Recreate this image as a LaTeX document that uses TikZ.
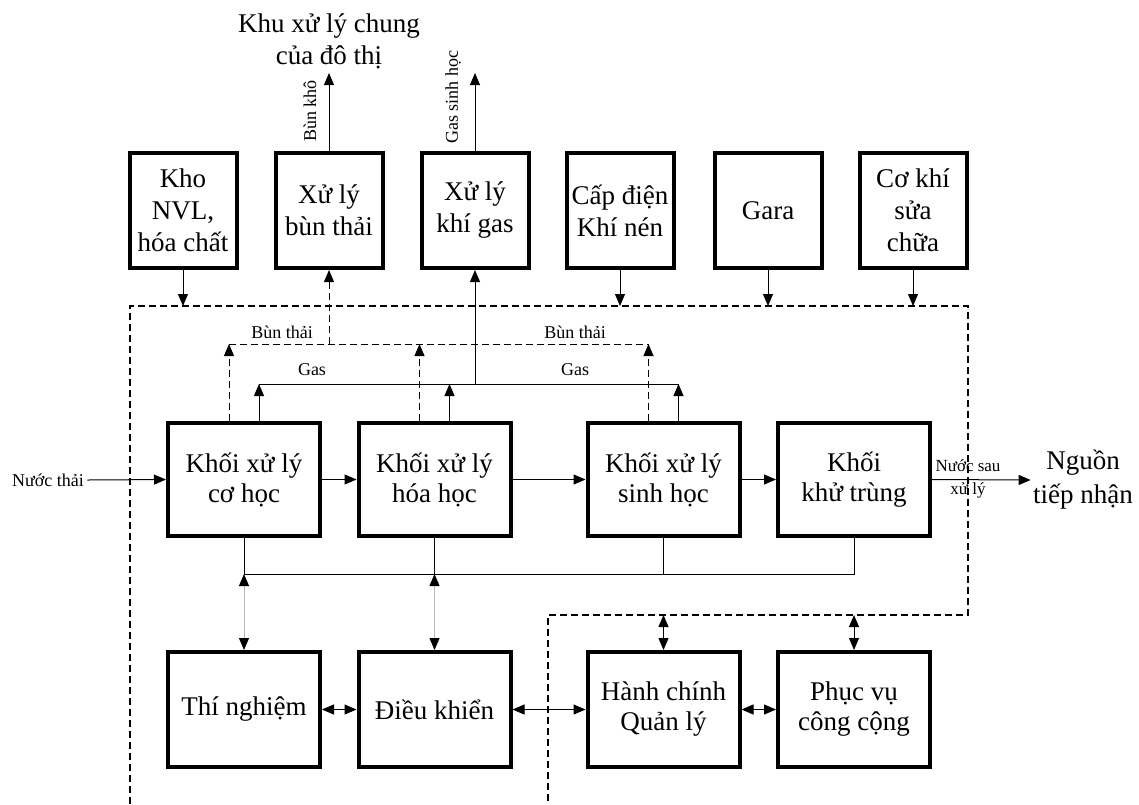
\documentclass[tikz,border=0pt]{standalone}
\usepackage{fontspec}
\setmainfont{Liberation Serif}
\usetikzlibrary{arrows.meta,positioning}

\begin{document}
\begin{tikzpicture}[x=1pt,y=-1pt,line width=1pt,
  blk/.style={draw,line width=4pt,minimum width=152pt,minimum height=113pt,
    align=center,inner sep=2pt,font=\fontsize{27}{30}\selectfont},
  topblk/.style={blk,minimum width=107pt,minimum height=115pt,font=\fontsize{27}{32}\selectfont},
  lbl/.style={inner sep=3pt,font=\fontsize{18}{20}\selectfont},
  arr/.style={-{Triangle[length=12pt,width=10pt]}},
  biarr/.style={{Triangle[length=12pt,width=10pt,color=black]}-{Triangle[length=12pt,width=10pt,color=black]}},
  dsh/.style={dash pattern=on 7pt off 4pt}]
\useasboundingbox (0,0) rectangle (1139,804);

% Levels of the connector lines
\coordinate (frameY) at (0,306);
\coordinate (innerY) at (0,615);
\coordinate (sludgeY) at (0,344);
\coordinate (gasY) at (0,384);
\coordinate (busY) at (0,574);

% Plant boundary
\draw[dsh,line width=1.1pt] (130,804) -- (130,306) -- (968,306) -- (968,615) -- (548,615) -- (548,804);

% Auxiliary blocks
\node[topblk] (store) at (183,210.5) {Kho\\NVL,\\hóa chất};
\node[topblk] (sludge) at (329,210.5) {Xử lý\\bùn thải};
\node[topblk] (gas) at (475,210.5) {Xử lý\\khí gas};
\node[topblk] (power) at (620,210.5) {Cấp điện\\Khí nén};
\node[topblk] (garage) at (768,210.5) {Gara};
\node[topblk] (repair) at (913,210.5) {Cơ khí\\sửa\\chữa};

% Treatment line
\node[blk] (mech) at (244,479.5) {Khối xử lý\\cơ học};
\node[blk] (chem) at (434.5,479.5) {Khối xử lý\\hóa học};
\node[blk] (bio) at (663.5,479.5) {Khối xử lý\\sinh học};
\node[blk] (disinf) at (854,479.5) {Khối\\khử trùng};

% Service blocks
\node[blk,minimum height=115pt] (lab) at (244,709.5) {Thí nghiệm};
\node[blk,minimum height=115pt] (ctrl) at (434.5,709.5) {Điều khiển};
\node[blk,minimum height=115pt] (admin) at (663.5,709.5) {Hành chính\\Quản lý};
\node[blk,minimum height=115pt] (serv) at (854,709.5) {Phục vụ\\công cộng};

% Outside receivers
\node[align=center,inner sep=2pt,font=\fontsize{27}{32}\selectfont] (city) at (329,41) {Khu xử lý chung\\của đô thị};
\node[align=center,inner sep=2pt,font=\fontsize{27}{34}\selectfont] (recv) at (1083,480) {Nguồn\\tiếp nhận};

% Water flow
\node[lbl] (inlbl) at (48,480) {Nước thải};
\draw[arr] (inlbl.east) -- (mech.west);
\draw[arr] (mech.east) -- (chem.west);
\draw[arr] (chem.east) -- (bio.west);
\draw[arr] (bio.east) -- (disinf.west);
\draw[arr] (disinf.east) -- (recv.west);
\node[lbl,align=center,font=\fontsize{17}{23}\selectfont] (outlbl) at (968,479) {Nước sau\\xử lý};

% Supplies into the plant
\draw[arr] (store.south) -- (store.south |- frameY);
\draw[arr] (power.south) -- (power.south |- frameY);
\draw[arr] (garage.south) -- (garage.south |- frameY);
\draw[arr] (repair.south) -- (repair.south |- frameY);

% Sludge collection
\draw[dsh,arr] ([xshift=-15pt]mech.north) -- ([xshift=-15pt]mech.north |- sludgeY);
\draw[dsh,arr] ([xshift=-15pt]chem.north) -- ([xshift=-15pt]chem.north |- sludgeY);
\draw[dsh,arr] ([xshift=-15pt]bio.north) -- ([xshift=-15pt]bio.north |- sludgeY);
\draw[dsh] ([xshift=-15pt]mech.north |- sludgeY) -- ([xshift=-15pt]bio.north |- sludgeY);
\draw[dsh,arr] (sludge.south |- sludgeY) -- (sludge.south);
\node[lbl] (sl1) at (282,332) {Bùn thải};
\node[lbl] (sl2) at (575,332) {Bùn thải};

% Gas collection
\draw[arr] ([xshift=15pt]mech.north) -- ([xshift=15pt]mech.north |- gasY);
\draw[arr] ([xshift=15pt]chem.north) -- ([xshift=15pt]chem.north |- gasY);
\draw[arr] ([xshift=15pt]bio.north) -- ([xshift=15pt]bio.north |- gasY);
\draw ([xshift=15pt]mech.north |- gasY) -- ([xshift=15pt]bio.north |- gasY);
\draw[arr] (gas.south |- gasY) -- (gas.south);
\node[lbl] (gs1) at (312,370) {Gas};
\node[lbl] (gs2) at (575,370) {Gas};

% To the city facility
\coordinate (dryout) at ([yshift=78pt]sludge.north);
\coordinate (gasout) at ([yshift=78pt]gas.north);
\draw[arr] (sludge.north) -- (dryout);
\draw[arr] (gas.north) -- (gasout);
\node[lbl,rotate=90] (drylbl) at (310,111) {Bùn khô};
\node[lbl,rotate=90] (gaslbl) at (453,97) {Gas sinh học};

% Monitoring bus
\draw (mech.south) |- (disinf.south |- busY) -- (disinf.south);
\draw (chem.south) -- (chem.south |- busY);
\draw (bio.south) -- (bio.south |- busY);
\draw[biarr,gray!55] (lab.north) -- (lab.north |- busY);
\draw[biarr,gray!55] (ctrl.north) -- (ctrl.north |- busY);

% Service links
\draw[biarr] (lab.east) -- (ctrl.west);
\draw[biarr] (ctrl.east) -- (admin.west);
\draw[biarr] (admin.east) -- (serv.west);
\draw[biarr] (admin.north) -- (admin.north |- innerY);
\draw[biarr] (serv.north) -- (serv.north |- innerY);
\end{tikzpicture}
\end{document}
